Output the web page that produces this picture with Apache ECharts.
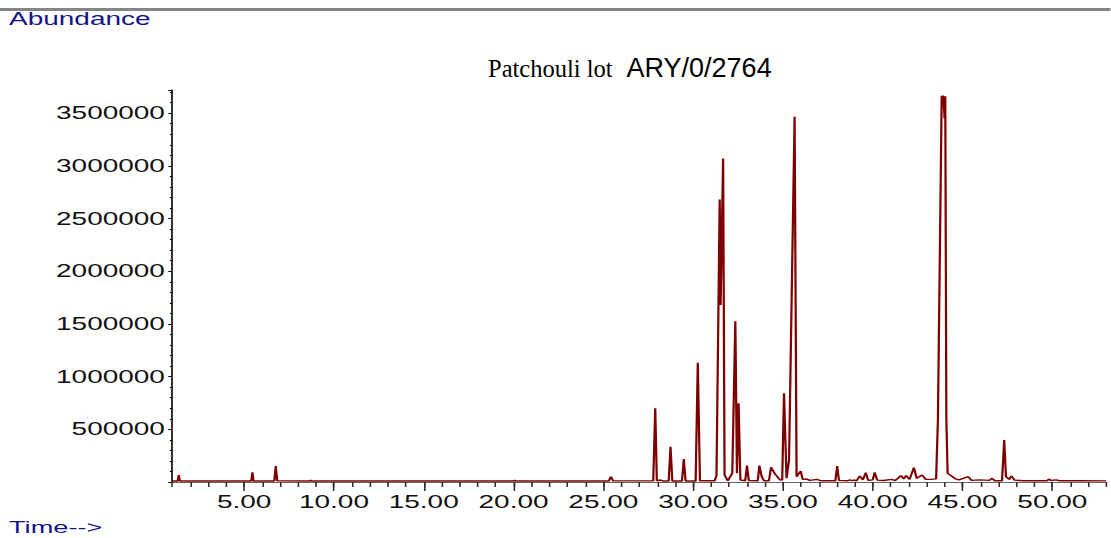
<!DOCTYPE html>
<html>
<head>
<meta charset="utf-8">
<script src="https://cdn.jsdelivr.net/npm/echarts@6/dist/echarts.min.js"></script>
<style>
html,body{margin:0;padding:0;background:#fff;overflow:hidden;width:1111px;height:538px;}
#c{position:absolute;left:0;top:0;width:694.375px;height:538px;transform:scaleX(1.6);transform-origin:0 0;}
</style>
</head>
<body>
<div id="c"></div>
<script>
// Retention time (min)
const times = [
  1.00, 1.30, 1.36, 1.42, 3.00, 5.40, 5.46, 5.52, 6.68, 6.76, 6.84, 8.65, 8.70, 8.75,
  20.00, 20.06, 20.12, 25.30, 25.42, 25.54,
  27.78, 27.89, 27.98, 28.20, 28.30, 28.64, 28.74, 28.84, 29.38, 29.48, 29.58,
  30.14, 30.26, 30.38, 31.20, 31.30, 31.48, 31.53, 31.67, 31.75, 31.93,
  32.18, 32.35, 32.44, 32.53, 32.63, 32.90, 33.00, 33.10, 33.60, 33.69, 33.82, 33.95,
  34.22, 34.34, 34.56, 34.84, 34.96, 35.06, 35.20, 35.34, 35.65, 35.76, 35.99, 36.10,
  36.32, 36.50, 36.90, 37.10, 37.92, 38.02, 38.12, 38.60, 38.72, 38.85, 38.95, 39.10,
  39.28, 39.45, 39.61, 39.75, 40.00, 40.11, 40.25, 40.60, 41.05, 41.25, 41.58, 41.72,
  41.86, 42.05, 42.29, 42.45, 42.75, 42.95, 43.25, 43.53, 43.63, 43.84, 43.94, 44.00,
  44.04, 44.10, 44.17, 44.45, 44.60, 44.80, 45.32, 45.50, 45.93, 46.50, 46.65, 46.80,
  47.20, 47.32, 47.42, 47.60, 47.72, 47.90, 48.40, 49.70, 49.81, 49.92, 50.20, 50.40,
  51.50, 53.00
];
// Abundance (counts)
const abundance = [
  10000, 10000, 66000, 10000, 11000, 10000, 92000, 10000, 10000, 152000, 12000, 10000, 19000, 10000,
  10000, 16000, 10000, 10000, 50000, 11000,
  11000, 699000, 12000, 19000, 10000, 10000, 335000, 10000, 10000, 218000, 10000,
  10000, 1132000, 12000, 12000, 60000, 2682000, 1680000, 3071000, 66000, 12000,
  83000, 1525000, 82000, 747000, 19000, 12000, 155000, 14000, 12000, 155000, 50000, 12000,
  12000, 140000, 76000, 19000, 20000, 841000, 35000, 209000, 3466000, 50000, 104000, 25000,
  28000, 15000, 25000, 12000, 12000, 152000, 15000, 12000, 19000, 12000, 19000, 12000,
  57000, 20000, 88000, 15000, 20000, 92000, 18000, 14000, 25000, 14000, 60000, 30000,
  60000, 25000, 136000, 35000, 66000, 25000, 25000, 30000, 590000, 3660000, 3660000, 3450000,
  3660000, 590000, 82000, 50000, 30000, 20000, 50000, 15000, 20000, 15000, 35000, 12000,
  12000, 398000, 50000, 25000, 57000, 18000, 12000, 12000, 28000, 14000, 20000, 12000,
  12000, 11000
];
const majorTimeTicks = [5, 10, 15, 20, 25, 30, 35, 40, 45, 50];
const titlePlain = 'Patchouli lot';
const titleCode = 'ARY/0/2764';
const yLabel = 'Abundance';
const xLabel = 'Time-->';

const S = 1.6; // horizontal stretch of the reference's text
const W = 1111 / S;
const sans = 'Arial, "Liberation Sans", sans-serif';
const serif = '"Times New Roman", "Liberation Serif", serif';

const chart = echarts.init(document.getElementById('c'), null, {renderer: 'svg', width: W, height: 538});
chart.setOption({
  animation: false,
  backgroundColor: '#fff',
  grid: {left: 172.3 / S, right: 0, top: 90, bottom: 56, containLabel: false},
  graphic: [
    {type: 'line', shape: {x1: 0, y1: 9.5, x2: W, y2: 9.5}, style: {stroke: '#858585', lineWidth: 3}},
    {type: 'text', x: 9 / S, y: 19, style: {text: yLabel, font: '17.5px ' + sans, fill: '#14148a', verticalAlign: 'middle'}},
    {type: 'text', x: 9 / S, y: 527, style: {text: xLabel, font: '17px ' + sans, fill: '#14148a', verticalAlign: 'middle'}},
    {type: 'text', x: 488 / S, y: 68, scaleX: 1 / S,
      style: {text: '{a|' + titlePlain + '}{b|' + titleCode + '}', verticalAlign: 'middle', fill: '#000',
        rich: {a: {fontFamily: serif, fontSize: 24.5, fill: '#000'},
               b: {fontFamily: sans, fontSize: 27, fill: '#000', padding: [0, 0, 0, 14]}}}}
  ],
  xAxis: [
    {
      type: 'value', min: 1, max: 53, interval: 1, position: 'bottom',
      axisLine: {show: true, onZero: false, lineStyle: {color: '#666', width: 1}},
      axisTick: {show: true, length: 5, lineStyle: {color: '#333', width: 1}},
      splitLine: {show: false},
      axisLabel: {
        show: true, margin: 10, fontFamily: sans, fontSize: 17.5, color: '#111', lineHeight: 20,
        formatter: v => (Math.abs(v % 5) < 1e-9 ? v.toFixed(2) : '')
      }
    },
    {
      type: 'value', min: 1, max: 53, position: 'bottom',
      axisLine: {show: false},
      axisTick: {show: true, length: 9, customValues: majorTimeTicks, lineStyle: {color: '#333', width: 1}},
      axisLabel: {show: false},
      splitLine: {show: false}
    }
  ],
  yAxis: {
    type: 'value', min: 0, max: 3720000, interval: 500000,
    axisLine: {show: true, lineStyle: {color: '#000', width: 1}},
    axisTick: {show: true, length: 2.5, lineStyle: {color: '#000', width: 1}},
    minorTick: {show: true, splitNumber: 5, length: 1.5, lineStyle: {color: '#000', width: 1}},
    splitLine: {show: false},
    axisLabel: {
      margin: 4.6, fontFamily: sans, fontSize: 17.5, color: '#111',
      formatter: v => (v > 0 && v % 500000 === 0 ? String(v) : '')
    }
  },
  series: [{
    type: 'line', xAxisIndex: 0,
    data: times.map((t, i) => [t, abundance[i]]),
    showSymbol: false, symbol: 'none',
    lineStyle: {color: '#7f0000', width: 1.4},
    z: 3
  }]
});
</script>
</body>
</html>
